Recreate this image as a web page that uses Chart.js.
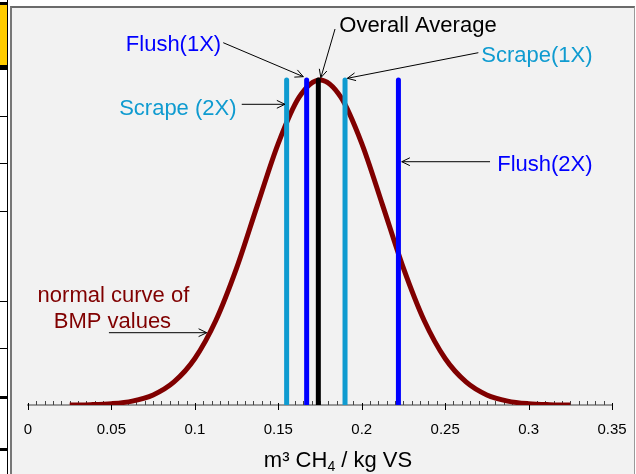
<!DOCTYPE html>
<html><head><meta charset="utf-8">
<script src="https://cdn.jsdelivr.net/npm/chart.js@4.4.1/dist/chart.umd.min.js"></script>
<style>
html,body{margin:0;padding:0;background:#fff;width:636px;height:474px;overflow:hidden;position:relative;}
.d{position:absolute;left:0;width:7px;background:#000;}
#vl{position:absolute;left:7px;top:0;width:1px;height:474px;background:#000;}
#frame{position:absolute;left:10px;top:6px;width:622px;height:470px;border-left:2px solid #777;border-top:2px solid #6a6a6a;border-right:1px solid #9a9a9a;background:#f2f2f2;}
#c{position:absolute;left:12px;top:8px;}
</style></head>
<body>
<div class="d" style="top:2px;height:3px"></div>
<div class="d" style="top:5px;height:60px;background:#ffcc00"></div>
<div class="d" style="top:65px;height:5px"></div>
<div class="d" style="top:116px;height:1px"></div>
<div class="d" style="top:163px;height:1px"></div>
<div class="d" style="top:211px;height:1px"></div>
<div class="d" style="top:301px;height:1px"></div>
<div class="d" style="top:348px;height:1px"></div>
<div class="d" style="top:396px;height:3px"></div>
<div class="d" style="top:448px;height:3px"></div>
<div id="vl"></div>
<div id="frame"></div>
<canvas id="c" width="622" height="466"></canvas>
<script>
// ---- data ----
const tickValues = [0, 0.05, 0.1, 0.15, 0.2, 0.25, 0.3, 0.35];
const tickLabels = ['0', '0.05', '0.1', '0.15', '0.2', '0.25', '0.3', '0.35'];
const curveX = [0.025, 0.0375, 0.05, 0.0625, 0.075, 0.0875, 0.1, 0.1125, 0.125, 0.1375, 0.15, 0.1625, 0.175, 0.1875, 0.2, 0.2125, 0.225, 0.2375, 0.25, 0.2625, 0.275, 0.2875, 0.3, 0.3125, 0.325];
const curveY = [0.000, 0.001, 0.004, 0.012, 0.031, 0.071, 0.143, 0.259, 0.421, 0.615, 0.805, 0.947, 1.000, 0.947, 0.805, 0.615, 0.421, 0.259, 0.143, 0.071, 0.031, 0.012, 0.004, 0.001, 0.000];
const lineNames = ['Scrape (2X)', 'Flush(1X)', 'Overall Average', 'Scrape(1X)', 'Flush(2X)'];
const lineValues = [0.155, 0.167, 0.174, 0.190, 0.222];
const lineTops = [1.0, 1.0, 1.0, 1.0, 1.0];
const axisTitle = ['m³ CH', '4', ' / kg VS'];

// ---- styles / annotation layout ----
const FONT = '"Liberation Sans", Arial, sans-serif';
const C_LIGHT = '#0f9bd0', C_BLUE = '#0000ff', C_BLACK = '#000000', C_RED = '#800000';
const lineColors = [C_LIGHT, C_BLUE, C_BLACK, C_LIGHT, C_BLUE];
const notes = [
  {text: 'Overall Average', x: 0.2337, y: 1.1477, color: C_BLACK},
  {text: 'Flush(1X)', x: 0.0872, y: 1.0902, color: C_BLUE},
  {text: 'Scrape (2X)', x: 0.0898, y: 0.8923, color: C_LIGHT},
  {text: 'Scrape(1X)', x: 0.3050, y: 1.0563, color: C_LIGHT},
  {text: 'Flush(2X)', x: 0.3098, y: 0.7200, color: C_BLUE},
  {text: 'normal curve of', x: 0.0512, y: 0.3178, color: C_RED},
  {text: 'BMP values', x: 0.0506, y: 0.2378, color: C_RED}
];
const arrows = [
  {x0: 0.1840, y0: 1.1569, x1: 0.1755, y1: 1.0071},
  {x0: 0.1170, y0: 1.1148, x1: 0.1650, y1: 1.0102},
  {x0: 0.1281, y0: 0.9252, x1: 0.1540, y1: 0.9252},
  {x0: 0.2699, y0: 1.0840, x1: 0.1914, y1: 1.0052},
  {x0: 0.2769, y0: 0.7486, x1: 0.2240, y1: 0.7486},
  {x0: 0.0485, y0: 0.2225, x1: 0.1071, y1: 0.2225}
];

const datasets = lineValues.map((v, i) => ({
  label: lineNames[i],
  data: [{x: v, y: 0}, {x: v, y: lineTops[i]}],
  borderColor: lineColors[i],
  borderWidth: 5,
  borderCapStyle: 'round',
  pointRadius: 0
}));
datasets.push({
  label: 'normal curve of BMP values',
  data: curveX.map((x, i) => ({x: x, y: curveY[i]})),
  borderColor: C_RED,
  borderWidth: 5,
  cubicInterpolationMode: 'monotone',
  pointRadius: 0
});

const deco = {
  id: 'deco',
  beforeDatasetsDraw(chart) {
    const ctx = chart.ctx, xs = chart.scales.x, yb = chart.chartArea.bottom;
    ctx.save();
    ctx.lineWidth = 1;
    for (let k = 0; k <= 70; k++) {
      const major = k % 10 === 0;
      const px = Math.round(xs.getPixelForValue(k * 0.005)) + 0.5;
      ctx.strokeStyle = major ? '#000' : '#444';
      ctx.beginPath();
      ctx.moveTo(px, major ? yb - 2 : yb - 4);
      ctx.lineTo(px, major ? yb + 5 : yb);
      ctx.stroke();
    }
    ctx.restore();
  },
  afterDatasetsDraw(chart) {
    const ctx = chart.ctx, xs = chart.scales.x, ys = chart.scales.y;
    ctx.save();
    ctx.font = '22px ' + FONT;
    ctx.textAlign = 'center';
    ctx.textBaseline = 'alphabetic';
    notes.forEach(n => {
      ctx.fillStyle = n.color;
      ctx.fillText(n.text, xs.getPixelForValue(n.x), ys.getPixelForValue(n.y));
    });
    ctx.strokeStyle = '#000';
    ctx.lineWidth = 1;
    arrows.forEach(a => {
      const x0 = xs.getPixelForValue(a.x0), y0 = ys.getPixelForValue(a.y0);
      const x1 = xs.getPixelForValue(a.x1), y1 = ys.getPixelForValue(a.y1);
      const ang = Math.atan2(y1 - y0, x1 - x0), L = 9, s = 0.45;
      ctx.beginPath();
      ctx.moveTo(x0, y0); ctx.lineTo(x1, y1);
      ctx.moveTo(x1 - L * Math.cos(ang - s), y1 - L * Math.sin(ang - s));
      ctx.lineTo(x1, y1);
      ctx.lineTo(x1 - L * Math.cos(ang + s), y1 - L * Math.sin(ang + s));
      ctx.stroke();
    });
    // axis title with subscript
    const big = '22px ' + FONT, small = '14px ' + FONT;
    ctx.font = big; const w1 = ctx.measureText(axisTitle[0]).width, w3 = ctx.measureText(axisTitle[2]).width;
    ctx.font = small; const w2 = ctx.measureText(axisTitle[1]).width;
    const total = w1 + w2 + w3;
    let tx = xs.getPixelForValue(0.1858) - total / 2;
    const by = chart.chartArea.bottom + 62;
    ctx.textAlign = 'left';
    ctx.fillStyle = '#000';
    ctx.font = big; ctx.fillText(axisTitle[0], tx, by); tx += w1;
    ctx.font = small; ctx.fillText(axisTitle[1], tx, by + 4); tx += w2;
    ctx.font = big; ctx.fillText(axisTitle[2], tx, by);
    ctx.restore();
  }
};

new Chart(document.getElementById('c'), {
  type: 'line',
  data: {datasets: datasets},
  options: {
    responsive: false,
    animation: false,
    devicePixelRatio: 1,
    layout: {padding: {left: 16, right: 22, top: 7, bottom: 0}},
    plugins: {legend: {display: false}, tooltip: {enabled: false}},
    scales: {
      x: {
        type: 'linear', min: 0, max: 0.35,
        afterBuildTicks: s => { s.ticks = tickValues.map(v => ({value: v})); },
        afterFit: s => { s.height = 69; s.paddingLeft = 0; s.paddingRight = 0; },
        ticks: {callback: (v, i) => tickLabels[i], font: {size: 15, family: FONT}, color: '#000', padding: 16, maxRotation: 0, autoSkip: false},
        grid: {display: false, drawTicks: false},
        border: {display: true, color: '#999', width: 2}
      },
      y: {type: 'linear', min: 0, max: 1.2, display: false}
    }
  },
  plugins: [deco]
});
</script>
</body></html>
